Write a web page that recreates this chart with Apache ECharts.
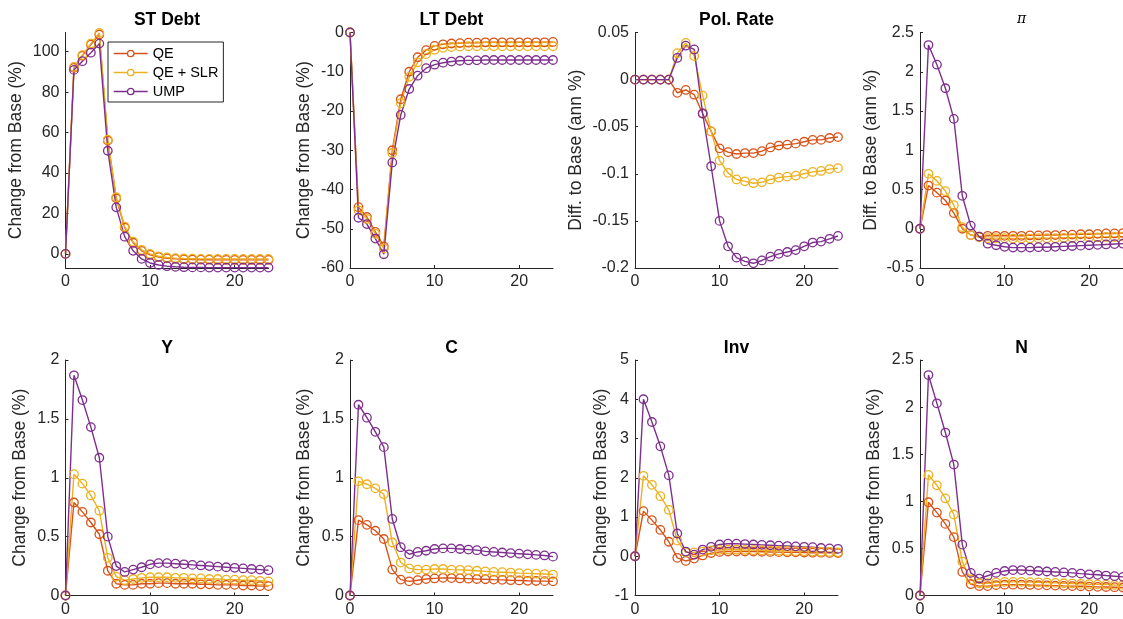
<!DOCTYPE html>
<html>
<head>
<meta charset="utf-8">
<script src="https://cdn.jsdelivr.net/npm/echarts@6/dist/echarts.min.js"></script>
<style>
html, body { margin: 0; padding: 0; background: #fff; }
#irfChart { width: 1123px; height: 619px; }
</style>
</head>
<body>
<div id="irfChart"></div>
<script>
// quarters after the shock
const steps = [0, 1, 2, 3, 4, 5, 6, 7, 8, 9, 10, 11, 12, 13, 14, 15, 16, 17, 18, 19, 20, 21, 22, 23, 24];
const seriesNames = ['QE', 'QE + SLR', 'UMP'];
const xTicks = [0, 10, 20];

const stDebtQE = [0, 92, 98, 103.5, 108.5, 56, 27.5, 13, 5.5, 1.5, -0.5, -1.6, -2.2, -2.5, -2.7, -2.8, -2.9, -2.9, -3.0, -3.0, -3.0, -3.0, -3.0, -3.0, -3.0];
const stDebtSLR = [0, 92.5, 98.3, 104, 109.3, 56.5, 28, 13.5, 6, 2, 0, -1.2, -1.8, -2.1, -2.3, -2.4, -2.5, -2.5, -2.5, -2.5, -2.5, -2.5, -2.5, -2.5, -2.5];
const stDebtUMP = [0, 91, 95.3, 99.5, 104, 51, 23, 8.5, 1.5, -2.5, -4.5, -5.5, -6.1, -6.4, -6.6, -6.7, -6.7, -6.8, -6.8, -6.8, -6.8, -6.8, -6.8, -6.8, -6.8];

const ltDebtQE = [0, -44.5, -47, -50.8, -54.5, -30, -17, -10, -6.3, -4.5, -3.4, -3.0, -2.8, -2.7, -2.6, -2.6, -2.5, -2.5, -2.5, -2.5, -2.5, -2.5, -2.5, -2.5, -2.4];
const ltDebtSLR = [0, -45.3, -47.5, -51.3, -55, -30.7, -18, -11.3, -7.6, -5.5, -4.4, -3.9, -3.7, -3.6, -3.5, -3.5, -3.5, -3.5, -3.5, -3.5, -3.5, -3.5, -3.5, -3.5, -3.5];
const ltDebtUMP = [0, -47.2, -48.8, -52.5, -56.5, -33.1, -21, -14.4, -11, -9.1, -8.2, -7.7, -7.4, -7.2, -7.1, -7.1, -7.0, -7.0, -7.0, -7.0, -7.0, -7.0, -7.0, -7.0, -7.0];

const polRateQE = [0, 0, 0, 0, 0, -0.014, -0.011, -0.016, -0.036, -0.055, -0.073, -0.077, -0.079, -0.078, -0.078, -0.076, -0.072, -0.070, -0.069, -0.068, -0.066, -0.064, -0.064, -0.062, -0.061];
const polRateSLR = [0, 0, 0, 0, 0, 0.028, 0.039, 0.025, -0.017, -0.055, -0.086, -0.099, -0.106, -0.108, -0.110, -0.109, -0.106, -0.104, -0.103, -0.102, -0.100, -0.098, -0.097, -0.095, -0.094];
const polRateUMP = [0, 0, 0, 0, 0, 0.023, 0.036, 0.032, -0.036, -0.092, -0.150, -0.177, -0.189, -0.193, -0.195, -0.192, -0.188, -0.185, -0.183, -0.181, -0.177, -0.173, -0.172, -0.169, -0.166];

const piQE = [0, 0.55, 0.46, 0.36, 0.20, 0.0, -0.08, -0.10, -0.09, -0.09, -0.09, -0.09, -0.09, -0.085, -0.085, -0.08, -0.08, -0.075, -0.075, -0.07, -0.07, -0.065, -0.06, -0.06, -0.055];
const piSLR = [0, 0.70, 0.61, 0.48, 0.30, 0.02, -0.08, -0.11, -0.12, -0.12, -0.12, -0.125, -0.125, -0.125, -0.12, -0.12, -0.12, -0.115, -0.115, -0.11, -0.11, -0.11, -0.105, -0.105, -0.10];
const piUMP = [0, 2.34, 2.09, 1.79, 1.40, 0.42, 0.04, -0.10, -0.19, -0.21, -0.23, -0.24, -0.24, -0.24, -0.235, -0.235, -0.23, -0.225, -0.22, -0.215, -0.21, -0.205, -0.2, -0.195, -0.19];

const outputQE = [0, 0.79, 0.71, 0.62, 0.52, 0.21, 0.10, 0.09, 0.09, 0.10, 0.10, 0.105, 0.105, 0.10, 0.10, 0.10, 0.095, 0.095, 0.09, 0.09, 0.09, 0.085, 0.085, 0.08, 0.08];
const outputSLR = [0, 1.03, 0.95, 0.85, 0.72, 0.32, 0.16, 0.13, 0.14, 0.15, 0.155, 0.155, 0.155, 0.15, 0.15, 0.145, 0.145, 0.14, 0.14, 0.135, 0.135, 0.13, 0.13, 0.125, 0.12];
const outputUMP = [0, 1.87, 1.66, 1.43, 1.17, 0.50, 0.25, 0.20, 0.22, 0.24, 0.265, 0.275, 0.275, 0.27, 0.265, 0.26, 0.255, 0.25, 0.245, 0.24, 0.235, 0.23, 0.225, 0.22, 0.215];

const consQE = [0, 0.64, 0.60, 0.55, 0.48, 0.22, 0.135, 0.12, 0.13, 0.14, 0.145, 0.15, 0.148, 0.145, 0.143, 0.14, 0.138, 0.135, 0.133, 0.13, 0.128, 0.125, 0.123, 0.122, 0.12];
const consSLR = [0, 0.97, 0.945, 0.91, 0.86, 0.45, 0.28, 0.23, 0.22, 0.22, 0.225, 0.225, 0.22, 0.218, 0.215, 0.21, 0.205, 0.2, 0.198, 0.195, 0.19, 0.188, 0.185, 0.182, 0.178];
const consUMP = [0, 1.62, 1.51, 1.39, 1.26, 0.65, 0.41, 0.35, 0.37, 0.38, 0.395, 0.40, 0.40, 0.395, 0.39, 0.385, 0.375, 0.37, 0.365, 0.36, 0.355, 0.35, 0.345, 0.34, 0.33];

const invQE = [0, 1.15, 0.92, 0.67, 0.37, -0.04, -0.12, -0.06, 0.02, 0.08, 0.11, 0.12, 0.12, 0.12, 0.12, 0.115, 0.11, 0.105, 0.1, 0.1, 0.095, 0.09, 0.09, 0.085, 0.08];
const invSLR = [0, 2.05, 1.82, 1.53, 1.18, 0.40, 0.10, 0.10, 0.12, 0.15, 0.16, 0.165, 0.165, 0.16, 0.155, 0.15, 0.145, 0.14, 0.135, 0.13, 0.125, 0.12, 0.115, 0.11, 0.10];
const invUMP = [0, 4.0, 3.42, 2.80, 2.06, 0.58, 0.12, 0.04, 0.17, 0.24, 0.30, 0.32, 0.32, 0.31, 0.30, 0.29, 0.28, 0.27, 0.26, 0.25, 0.24, 0.23, 0.21, 0.20, 0.19];

const hoursQE = [0, 0.99, 0.88, 0.76, 0.62, 0.25, 0.12, 0.10, 0.10, 0.11, 0.115, 0.115, 0.115, 0.112, 0.11, 0.108, 0.105, 0.102, 0.1, 0.098, 0.095, 0.092, 0.09, 0.088, 0.085];
const hoursSLR = [0, 1.28, 1.17, 1.03, 0.86, 0.36, 0.17, 0.13, 0.13, 0.14, 0.145, 0.145, 0.145, 0.142, 0.14, 0.137, 0.134, 0.13, 0.127, 0.124, 0.12, 0.118, 0.115, 0.112, 0.11];
const hoursUMP = [0, 2.34, 2.04, 1.73, 1.39, 0.54, 0.24, 0.18, 0.21, 0.24, 0.26, 0.27, 0.27, 0.265, 0.26, 0.255, 0.25, 0.245, 0.24, 0.232, 0.225, 0.22, 0.212, 0.205, 0.198];

const panels = [
  { title: 'ST Debt', yName: 'Change from Base (%)', min: -7, max: 109.5, ticks: [0, 20, 40, 60, 80, 100], lines: [stDebtQE, stDebtSLR, stDebtUMP] },
  { title: 'LT Debt', yName: 'Change from Base (%)', min: -60, max: 0, ticks: [-60, -50, -40, -30, -20, -10, 0], lines: [ltDebtQE, ltDebtSLR, ltDebtUMP] },
  { title: 'Pol. Rate', yName: 'Diff. to Base (ann %)', min: -0.2, max: 0.05, ticks: [-0.2, -0.15, -0.1, -0.05, 0, 0.05], lines: [polRateQE, polRateSLR, polRateUMP] },
  { title: 'π', yName: 'Diff. to Base (ann %)', min: -0.5, max: 2.5, ticks: [-0.5, 0, 0.5, 1, 1.5, 2, 2.5], lines: [piQE, piSLR, piUMP] },
  { title: 'Y', yName: 'Change from Base (%)', min: 0, max: 2, ticks: [0, 0.5, 1, 1.5, 2], lines: [outputQE, outputSLR, outputUMP] },
  { title: 'C', yName: 'Change from Base (%)', min: 0, max: 2, ticks: [0, 0.5, 1, 1.5, 2], lines: [consQE, consSLR, consUMP] },
  { title: 'Inv', yName: 'Change from Base (%)', min: -1, max: 5, ticks: [-1, 0, 1, 2, 3, 4, 5], lines: [invQE, invSLR, invUMP] },
  { title: 'N', yName: 'Change from Base (%)', min: 0, max: 2.5, ticks: [0, 0.5, 1, 1.5, 2, 2.5], lines: [hoursQE, hoursSLR, hoursUMP] }
];

// layout (MATLAB subplot 2x4)
const colors = ['#D95319', '#EDB120', '#7E2F8E'];
const lefts = [65.5, 350, 635, 920];
const tops = [32.5, 360];
const plotW = 203;
const plotH = 235.5;
const nameGaps = [40, 37, 50, 40, 36, 37, 25, 37];
const axisColor = '#262626';
const font = '"Liberation Sans", Arial, Helvetica, sans-serif';

let grid = [], xAxis = [], yAxis = [], series = [], title = [];

panels.forEach((p, i) => {
  const left = lefts[i % 4];
  const top = tops[Math.floor(i / 4)];
  grid.push({ left: left, top: top, width: plotW, height: plotH, containLabel: false });
  const isPi = p.title === 'π';
  title.push({
    text: p.title,
    left: left + plotW / 2,
    top: isPi ? top - 20 : top - 21,
    textAlign: 'center',
    padding: 0,
    textStyle: isPi
      ? { fontFamily: '"DejaVu Serif", serif', fontStyle: 'italic', fontWeight: 'normal', fontSize: 14, color: '#000' }
      : { fontFamily: font, fontWeight: 'bold', fontSize: 17.5, color: '#000' }
  });
  xAxis.push({
    type: 'value', gridIndex: i, min: 0, max: 24,
    axisLine: { show: true, onZero: false, lineStyle: { color: axisColor, width: 1 } },
    axisTick: { show: true, inside: true, length: 3, customValues: xTicks, lineStyle: { color: axisColor } },
    axisLabel: { customValues: xTicks, color: axisColor, fontSize: 16, fontFamily: font, margin: 6 },
    splitLine: { show: false }
  });
  yAxis.push({
    type: 'value', gridIndex: i, min: p.min, max: p.max,
    name: p.yName, nameLocation: 'middle', nameRotate: 90, nameGap: nameGaps[i],
    nameTextStyle: { fontSize: 17.5, color: axisColor, fontFamily: font },
    axisLine: { show: true, onZero: false, lineStyle: { color: axisColor, width: 1 } },
    axisTick: { show: true, inside: true, length: 3, customValues: p.ticks, lineStyle: { color: axisColor } },
    axisLabel: { customValues: p.ticks, color: axisColor, fontSize: 16, fontFamily: font, margin: 6 },
    splitLine: { show: false }
  });
  p.lines.forEach((vals, k) => {
    series.push({
      type: 'line',
      name: seriesNames[k],
      xAxisIndex: i,
      yAxisIndex: i,
      data: steps.map((s, j) => [s, vals[j]]),
      symbol: 'circle',
      symbolSize: 8.5,
      clip: false,
      color: colors[k],
      lineStyle: { color: colors[k], width: 1.4 },
      itemStyle: { color: 'rgba(255,255,255,0)', borderColor: colors[k], borderWidth: 1.3 },
      emphasis: { disabled: true }
    });
  });
});

const myChart = echarts.init(document.getElementById('irfChart'));
myChart.setOption({
  animation: false,
  backgroundColor: '#fff',
  title: title,
  grid: grid,
  xAxis: xAxis,
  yAxis: yAxis,
  legend: {
    data: seriesNames.map((n, k) => ({
      name: n,
      itemStyle: { color: '#fff', borderColor: colors[k], borderWidth: 1.3 },
      lineStyle: { color: colors[k], width: 1.4 }
    })),
    orient: 'vertical',
    left: 108,
    top: 42,
    itemWidth: 34,
    itemHeight: 8,
    itemGap: 4,
    padding: [4, 5, 3, 5],
    borderColor: axisColor,
    borderWidth: 1,
    backgroundColor: '#fff',
    selectedMode: false,
    textStyle: { fontSize: 14.5, color: '#000', fontFamily: font }
  },
  series: series
});
</script>
</body>
</html>
